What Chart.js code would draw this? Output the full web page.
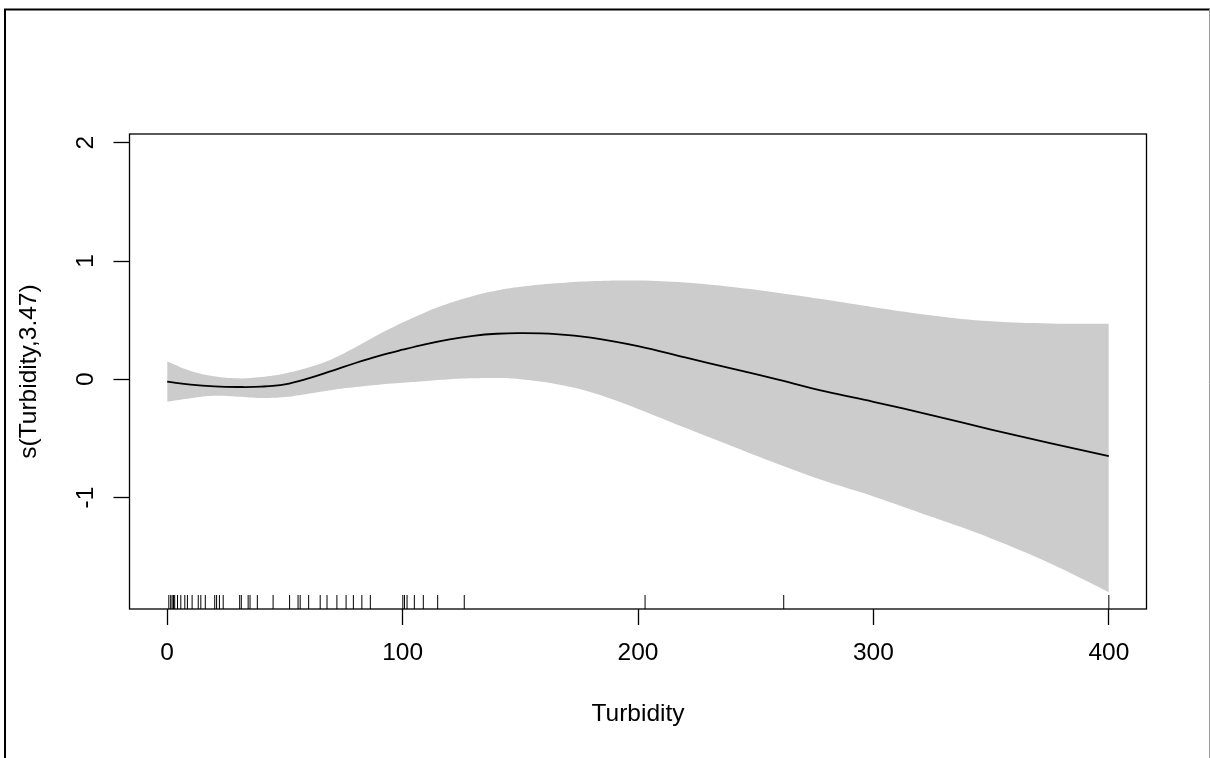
<!DOCTYPE html>
<html>
<head>
<meta charset="utf-8">
<script src="https://cdn.jsdelivr.net/npm/chart.js@4"></script>
<style>
  html, body { margin: 0; padding: 0; background: #fff; }
  #wrap { width: 1210px; height: 758px; position: relative; }
</style>
</head>
<body>
<div id="wrap"><canvas id="myChart" width="1210" height="758"></canvas></div>
<script>
// values
const turbidity = [0, 10, 20, 30, 40, 50, 60, 70, 80, 90, 100, 110, 120, 130, 140, 150,
  165, 180, 200, 220, 240, 260, 280, 300, 325, 350, 375, 400];
const fitValues = [-0.02, -0.045, -0.06, -0.065, -0.062, -0.042, 0.008, 0.072, 0.138, 0.198, 0.25, 0.298, 0.338, 0.368, 0.385, 0.39,
  0.382, 0.352, 0.28, 0.185, 0.09, -0.005, -0.105, -0.19, -0.305, -0.425, -0.54, -0.65];
const upperValues = [0.15, 0.07, 0.025, 0.008, 0.02, 0.05, 0.1, 0.17, 0.27, 0.38, 0.48, 0.57, 0.645, 0.705, 0.75, 0.782,
  0.812, 0.83, 0.835, 0.818, 0.78, 0.73, 0.672, 0.61, 0.54, 0.49, 0.472, 0.47];
const lowerValues = [-0.19, -0.16, -0.14, -0.148, -0.158, -0.15, -0.122, -0.09, -0.065, -0.045, -0.03, -0.015, 0.0, 0.008, 0.01, 0.0,
  -0.04, -0.11, -0.25, -0.41, -0.565, -0.72, -0.865, -0.99, -1.165, -1.345, -1.555, -1.8];
const rugValues = [0.7, 1.5, 2.1, 2.7, 3.2, 4.4, 5.8, 7.5, 8.6, 10.6, 13.2, 14.3, 16.2, 20.2, 21.0, 22.2, 23.8,
  30.8, 31.5, 34.4, 35.2, 38.3, 45.0, 52.0, 55.6, 56.5, 60.1, 65.0, 67.9, 72.1, 76.0, 79.1, 82.7, 86.3,
  100.1, 100.8, 101.9, 105.0, 108.8, 114.9, 126.2, 203.0, 261.9, 400.0];
const xTicks = [0, 100, 200, 300, 400];
const yTicks = [-1, 0, 1, 2];

const labelFont = { family: "'Liberation Sans', Arial, sans-serif", size: 24.5 };

const toPoints = (ys) => turbidity.map((t, i) => ({ x: t, y: ys[i] }));

// white page, outer frame, rug and the plot box
const rPlot = {
  id: "rPlot",
  beforeDraw(chart) {
    const ctx = chart.ctx;
    ctx.save();
    ctx.fillStyle = "#fff";
    ctx.fillRect(0, 0, chart.width, chart.height);
    ctx.restore();
  },
  afterDraw(chart) {
    const { ctx, chartArea: a, scales: { x } } = chart;
    ctx.save();
    ctx.strokeStyle = "#000";
    ctx.lineWidth = 1;
    rugValues.forEach((v) => {
      const px = x.getPixelForValue(v);
      ctx.beginPath();
      ctx.moveTo(px, a.bottom);
      ctx.lineTo(px, a.bottom - 14);
      ctx.stroke();
    });
    ctx.lineWidth = 1.3;
    ctx.strokeRect(a.left, a.top, a.right - a.left, a.bottom - a.top);
    // outer picture frame
    ctx.lineWidth = 2;
    ctx.beginPath();
    ctx.moveTo(5, chart.height);
    ctx.lineTo(5, 9.5);
    ctx.lineTo(chart.width, 9.5);
    ctx.stroke();
    ctx.strokeStyle = "#999";
    ctx.lineWidth = 1;
    ctx.beginPath();
    ctx.moveTo(1209.5, 9);
    ctx.lineTo(1209.5, chart.height);
    ctx.stroke();
    ctx.restore();
  },
};

new Chart(document.getElementById("myChart"), {
  type: "line",
  data: {
    datasets: [
      {
        label: "fit",
        data: toPoints(fitValues),
        borderColor: "#000",
        borderWidth: 1.8,
        pointRadius: 0,
        fill: false,
        tension: 0.4,
      },
      {
        label: "upper",
        data: toPoints(upperValues),
        borderWidth: 0,
        borderColor: "rgba(0,0,0,0)",
        backgroundColor: "#cccccc",
        pointRadius: 0,
        fill: "+1",
        tension: 0.4,
      },
      {
        label: "lower",
        data: toPoints(lowerValues),
        borderWidth: 0,
        borderColor: "rgba(0,0,0,0)",
        pointRadius: 0,
        fill: false,
        tension: 0.4,
      },
    ],
  },
  options: {
    responsive: false,
    animation: false,
    devicePixelRatio: 1,
    events: [],
    layout: { padding: { top: 134, right: 63.5, left: 0, bottom: 0 } },
    plugins: { legend: { display: false }, tooltip: { enabled: false } },
    scales: {
      x: {
        type: "linear",
        min: -16,
        max: 416,
        afterBuildTicks: (s) => { s.ticks = xTicks.map((v) => ({ value: v })); },
        afterFit: (s) => { s.height = 149; },
        grid: { drawOnChartArea: false, drawTicks: true, tickLength: 16, tickColor: "#000", tickWidth: 1.3 },
        border: { display: false },
        ticks: { font: labelFont, color: "#000", padding: 14, maxRotation: 0, callback: (v) => String(v) },
        title: { display: true, text: "Turbidity", font: labelFont, color: "#000", padding: { top: 0, bottom: 29 } },
      },
      y: {
        type: "linear",
        min: -1.942,
        max: 2.074,
        afterBuildTicks: (s) => { s.ticks = yTicks.map((v) => ({ value: v })); },
        afterFit: (s) => { s.width = 129.5; },
        grid: { drawOnChartArea: false, drawTicks: true, tickLength: 16, tickColor: "#000", tickWidth: 1.3 },
        border: { display: false },
        ticks: { font: labelFont, color: "#000", padding: 16, minRotation: 90, maxRotation: 90, crossAlign: "center", callback: (v) => String(v) },
        title: { display: true, text: "s(Turbidity,3.47)", font: labelFont, color: "#000", padding: { top: 15, bottom: 0 } },
      },
    },
  },
  plugins: [rPlot],
});
</script>
</body>
</html>
